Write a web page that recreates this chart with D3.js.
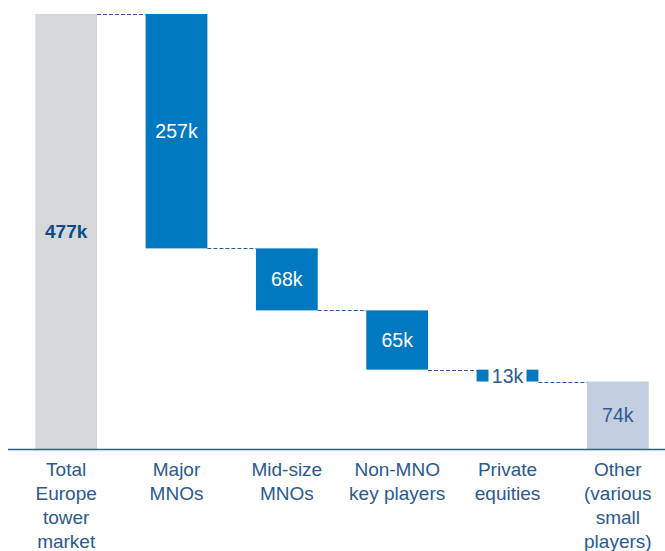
<!DOCTYPE html>
<html>
<head>
<meta charset="utf-8">
<script src="https://cdn.jsdelivr.net/npm/d3@7"></script>
<style>
  body { margin: 0; background: #fff; }
  svg text { font-family: "Liberation Sans", Arial, sans-serif; }
</style>
</head>
<body>
<div id="canvas"></div>
<script>
var categories = ["Total Europe tower market", "Major MNOs", "Mid-size MNOs",
  "Non-MNO key players", "Private equities", "Other (various small players)"];
var labelLines = [
  ["Total", "Europe", "tower", "market"],
  ["Major", "MNOs"],
  ["Mid-size", "MNOs"],
  ["Non-MNO", "key players"],
  ["Private", "equities"],
  ["Other", "(various", "small", "players)"]
];
var values = [477, 257, 68, 65, 13, 74];
var kinds = ["total", "step", "step", "step", "step", "rest"];

var width = 665, height = 551;
var baseY = 449;

var svg = d3.select("#canvas")
  .append("svg")
  .attr("width", width)
  .attr("height", height);

var x = d3.scaleBand()
  .domain(categories)
  .range([11, 673])
  .paddingInner(0.44)
  .paddingOuter(0.22);

var y = d3.scaleLinear()
  .domain([0, 477])
  .range([baseY, 14]);

// build waterfall segments
var running = values[0];
var bars = categories.map(function(c, i) {
  var lo, hi;
  if (kinds[i] === "total" || kinds[i] === "rest") { lo = 0; hi = values[i]; }
  else { hi = running; lo = running - values[i]; running = lo; }
  return { cat: c, v: values[i], lo: lo, hi: hi, kind: kinds[i] };
});

var fills = { total: "#d6d7d9", step: "#0079c1", rest: "#c3cee0" };

// connectors
var conn = [];
for (var i = 0; i < bars.length - 1; i++) {
  var level = bars[i].kind === "total" ? bars[i].hi : bars[i].lo;
  conn.push({ from: bars[i].cat, to: bars[i + 1].cat, level: level });
}
svg.selectAll("line.conn")
  .data(conn)
  .enter()
    .append("line")
    .attr("class", "conn")
    .attr("x1", function(d) { return x(d.from) + x.bandwidth(); })
    .attr("x2", function(d) { return x(d.to); })
    .attr("y1", function(d) { return Math.round(y(d.level)) + 0.5; })
    .attr("y2", function(d) { return Math.round(y(d.level)) + 0.5; })
    .attr("stroke", "#2a5f9a")
    .attr("stroke-width", 1)
    .attr("stroke-dasharray", "4,2");

svg.selectAll("rect.bar")
  .data(bars)
  .enter()
    .append("rect")
    .attr("class", "bar")
    .attr("x", function(d) { return x(d.cat); })
    .attr("width", x.bandwidth())
    .attr("y", function(d) { return y(d.hi); })
    .attr("height", function(d) { return y(d.lo) - y(d.hi); })
    .attr("fill", function(d) { return fills[d.kind]; });

// value labels
var labels = svg.selectAll("g.val")
  .data(bars)
  .enter()
    .append("g")
    .attr("class", "val")
    .attr("transform", function(d) {
      return "translate(" + (x(d.cat) + x.bandwidth() / 2) + "," + ((y(d.lo) + y(d.hi)) / 2) + ")";
    });

labels.filter(function(d) { return d.v < 20; })
  .append("rect")
  .attr("x", -19).attr("y", -12)
  .attr("width", 38).attr("height", 24)
  .attr("fill", "#fff");

labels.append("text")
  .attr("text-anchor", "middle")
  .attr("dy", "0.36em")
  .attr("font-size", function(d) { return d.kind === "total" ? 19 : 19.5; })
  .attr("font-weight", function(d) { return d.kind === "total" ? "bold" : "normal"; })
  .attr("fill", function(d) {
    if (d.kind === "total") return "#0b4a8b";
    if (d.kind === "rest") return "#2c5b92";
    return d.v < 20 ? "#2c5b92" : "#ffffff";
  })
  .text(function(d) { return d.v + "k"; });

// baseline
svg.append("line")
  .attr("x1", 8).attr("x2", width)
  .attr("y1", baseY + 0.5).attr("y2", baseY + 0.5)
  .attr("stroke", "#24609e")
  .attr("stroke-width", 1.5);

// category labels
svg.selectAll("text.cat")
  .data(categories)
  .enter()
    .append("text")
    .attr("class", "cat")
    .attr("text-anchor", "middle")
    .attr("font-size", 19)
    .attr("fill", "#2a5a90")
    .attr("x", function(d) { return x(d) + x.bandwidth() / 2; })
    .attr("y", 476)
    .each(function(d, i) {
      d3.select(this).selectAll("tspan")
        .data(labelLines[i])
        .enter()
          .append("tspan")
          .attr("x", x(d) + x.bandwidth() / 2)
          .attr("dy", function(t, j) { return j === 0 ? 0 : 24; })
          .text(function(t) { return t; });
    });
</script>
</body>
</html>
